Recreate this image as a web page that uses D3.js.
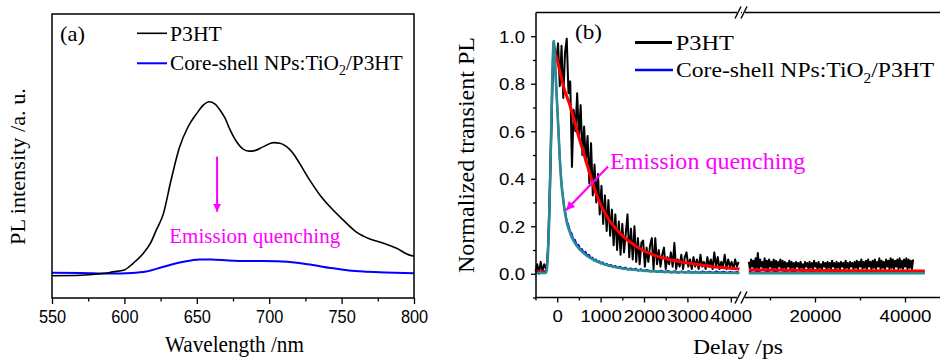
<!DOCTYPE html>
<html>
<head>
<meta charset="utf-8">
<script src="https://cdn.jsdelivr.net/npm/d3@7"></script>
<style>
  body { margin: 0; background: #fff; }
  svg { display: block; }
</style>
</head>
<body>
<svg id="chart" width="940" height="359"></svg>
<script>
// ---------- panel (a): steady-state PL spectra ----------
const wavelengthTicks = [550, 600, 650, 700, 750, 800];
const wavelengthMinor = [575, 625, 675, 725, 775];
// [wavelength nm, intensity a.u.]
const p3htSpectrum = [
  [550, 7.85], [570, 8.0], [585, 8.6], [592, 9.2], [600, 9.9], [606, 12.2], [613, 15.7],
  [618, 19.3], [622, 23.9], [627, 29.8], [632, 41.0], [638, 53.0], [644, 60.3], [650, 65.0],
  [654.5, 67.9], [658.4, 69.1], [662.6, 68.3], [666, 66.2], [669.5, 63.3], [673, 59.2],
  [677.5, 55.0], [682, 52.4], [686, 51.7], [690, 51.9], [696, 53.3], [703, 54.7], [707.5, 54.5],
  [712, 53.3], [716.6, 50.9], [721, 47.4], [728, 41.5], [735, 36.3], [742, 32.1], [751, 27.5],
  [760, 23.3], [770, 20.7], [779, 19.3], [788, 17.5], [797, 15.1], [800, 14.8]
];
const coreShellSpectrum = [
  [550, 8.9], [570, 8.8], [590, 8.6], [605, 8.8], [615, 9.3], [627, 11.0], [640, 12.7],
  [652, 13.6], [660, 13.6], [672, 13.2], [684, 13.0], [695, 13.0], [705, 12.9], [719, 12.4],
  [730, 11.6], [742, 10.6], [755, 9.7], [765, 9.3], [780, 9.0], [800, 8.7]
];

// ---------- panel (b): transient PL ----------
const delayTicksShort = [0, 1000, 2000, 3000, 4000];
const delayMinorShort = [-500, 500, 1500, 2500, 3500];
const delayTicksLong = [20000, 40000];
const delayMinorLong = [10000, 30000];
const plTicks = [0, 0.2, 0.4, 0.6, 0.8, 1.0];
const plMinor = [-0.1, 0.1, 0.3, 0.5, 0.7, 0.9];

// P3HT raw decay, early window: starts at -500 ps, one value every 40 ps
const p3htEarlyStart = -500, p3htEarlyStep = 40;
const p3htEarly = [
  0.01, 0.04, 0.00, 0.05, 0.01, 0.04, 0.02, 0.06, 0.25, 0.55,
  0.85, 0.95, 0.90, 0.97, 0.79, 0.96, 0.74, 0.93, 0.99, 0.76,
  0.81, 0.45, 0.69, 0.60, 0.76, 0.57, 0.71, 0.50, 0.62, 0.47,
  0.58, 0.38, 0.55, 0.33, 0.46, 0.30, 0.42, 0.25, 0.37, 0.21,
  0.33, 0.18, 0.31, 0.16, 0.27, 0.12, 0.25, 0.10, 0.22, 0.08,
  0.21, 0.09, 0.17, 0.25, 0.07, 0.19, 0.06, 0.20, 0.05, 0.15,
  0.04, 0.13, 0.14, 0.03, 0.11, 0.05, 0.12, 0.15, 0.02, 0.15,
  0.04, 0.10, 0.03, 0.08, 0.11, 0.02, 0.07, 0.04, 0.09, 0.03,
  0.13, 0.02, 0.06, 0.03, 0.08, 0.02, 0.07, 0.09, 0.03, 0.06,
  0.02, 0.07, 0.03, 0.06, 0.02, 0.08, 0.03, 0.05, 0.02, 0.07,
  0.03, 0.06, 0.02, 0.09, 0.03, 0.07, 0.02, 0.05, 0.03, 0.08,
  0.02, 0.06, 0.03, 0.05, 0.02, 0.06, 0.03, 0.05
];
// P3HT raw decay, long window: starts at 5300 ps, one value every 250 ps
const p3htLateStart = 5300, p3htLateStep = 250;
const p3htLate = [
  0.05, 0.02, 0.06, 0.03, 0.055, 0.02, 0.065, 0.025, 0.087, 0.02,
  0.06, 0.03, 0.05, 0.02, 0.065, 0.025, 0.055, 0.02, 0.06, 0.03,
  0.05, 0.02, 0.06, 0.025, 0.055, 0.02, 0.05, 0.03, 0.06, 0.02,
  0.055, 0.025, 0.05, 0.02, 0.045, 0.03, 0.055, 0.02, 0.05, 0.025,
  0.045, 0.02, 0.05, 0.03, 0.045, 0.02, 0.05, 0.025, 0.04, 0.02,
  0.05, 0.03, 0.045, 0.02, 0.05, 0.025, 0.045, 0.02, 0.055, 0.03,
  0.045, 0.02, 0.05, 0.025, 0.04, 0.02, 0.05, 0.03, 0.045, 0.02,
  0.05, 0.025, 0.045, 0.02, 0.055, 0.03, 0.045, 0.02, 0.05, 0.025,
  0.045, 0.02, 0.05, 0.03, 0.045, 0.02, 0.055, 0.025, 0.045, 0.02,
  0.05, 0.03, 0.045, 0.02, 0.05, 0.025, 0.055, 0.02, 0.05, 0.03,
  0.06, 0.02, 0.05, 0.025, 0.055, 0.02, 0.06, 0.03, 0.05, 0.02,
  0.055, 0.025, 0.06, 0.02, 0.05, 0.03, 0.065, 0.02, 0.055, 0.025,
  0.05, 0.02, 0.06, 0.03, 0.055, 0.02, 0.065, 0.025, 0.06, 0.02,
  0.055, 0.03, 0.06, 0.02, 0.065, 0.025, 0.055, 0.02, 0.06, 0.03,
  0.065, 0.02, 0.06, 0.025, 0.055, 0.02, 0.06
];
// core-shell raw decay [ps, PL]
const coreShellEarly = [
  [-500, 0.005], [-440, 0.012], [-380, 0.003], [-320, 0.01], [-270, 0.006], [-240, 0.03],
  [-210, 0.12], [-180, 0.3], [-150, 0.52], [-120, 0.76], [-95, 0.93], [-80, 0.98], [-65, 0.95],
  [-45, 0.87], [-20, 0.78], [5, 0.69], [30, 0.6], [55, 0.5], [80, 0.43], [105, 0.37], [130, 0.33],
  [160, 0.28], [190, 0.255], [220, 0.22], [250, 0.21], [290, 0.18], [330, 0.17], [370, 0.145],
  [410, 0.142], [450, 0.12], [490, 0.122], [530, 0.1], [570, 0.104], [610, 0.088], [650, 0.092],
  [690, 0.075], [730, 0.08], [770, 0.066], [810, 0.068], [850, 0.056], [890, 0.06], [930, 0.05],
  [970, 0.053], [1010, 0.043], [1050, 0.048], [1090, 0.038], [1140, 0.042], [1190, 0.033],
  [1240, 0.037], [1290, 0.028], [1340, 0.033], [1390, 0.025], [1450, 0.029], [1510, 0.021],
  [1570, 0.026], [1630, 0.018], [1690, 0.023], [1750, 0.016], [1810, 0.021], [1870, 0.013],
  [1930, 0.019], [1990, 0.011], [2070, 0.016], [2150, 0.009], [2230, 0.014], [2310, 0.007],
  [2390, 0.013], [2470, 0.006], [2550, 0.012], [2630, 0.005], [2710, 0.011], [2790, 0.004],
  [2870, 0.01], [2950, 0.004], [3030, 0.011], [3110, 0.004], [3190, 0.009], [3270, 0.003],
  [3350, 0.01], [3430, 0.004], [3510, 0.009], [3590, 0.003], [3670, 0.01], [3750, 0.004],
  [3830, 0.009], [3910, 0.003], [3990, 0.008], [4070, 0.004], [4180, 0.008]
];
const coreShellLate = [
  [5300, 0.008], [6300, 0.004], [7300, 0.009], [8300, 0.003], [9300, 0.008], [10300, 0.004],
  [11300, 0.009], [12300, 0.003], [13300, 0.008], [14300, 0.004], [15300, 0.009], [16300, 0.003],
  [17300, 0.008], [18300, 0.004], [19300, 0.009], [20300, 0.003], [21300, 0.008], [22300, 0.004],
  [23300, 0.009], [24300, 0.003], [25300, 0.008], [26300, 0.004], [27300, 0.009], [28300, 0.003],
  [29300, 0.008], [30300, 0.004], [31300, 0.009], [32300, 0.003], [33300, 0.008], [34300, 0.004],
  [35300, 0.009], [36300, 0.003], [37300, 0.008], [38300, 0.004], [39300, 0.009], [40300, 0.003],
  [41300, 0.008], [42300, 0.004], [43300, 0.008], [44400, 0.004]
];
// fitted curves [ps, PL]
const p3htFitRise = [
  [-500, 0.012], [-300, 0.012], [-260, 0.02], [-230, 0.06], [-200, 0.2], [-170, 0.42],
  [-140, 0.63], [-110, 0.82], [-85, 0.93], [-78, 0.94]
];
const p3htFitDecay = [
  [-78, 0.94], [-40, 0.926], [50, 0.86], [150, 0.786], [310, 0.70], [460, 0.60], [615, 0.505],
  [770, 0.41], [920, 0.325], [1150, 0.24], [1460, 0.168], [1850, 0.112], [2230, 0.078],
  [2620, 0.058], [3000, 0.045], [3500, 0.032], [4200, 0.02]
];
const p3htFitLate = [[5300, 0.017], [15000, 0.015], [30000, 0.013], [44400, 0.012]];
const coreShellFit = [
  [-500, 0.003], [-280, 0.003], [-250, 0.008], [-220, 0.06], [-190, 0.2], [-160, 0.42],
  [-130, 0.68], [-105, 0.88], [-85, 0.97], [-78, 0.98], [-65, 0.95], [-50, 0.89], [-16, 0.765],
  [23, 0.624], [60, 0.484], [100, 0.372], [140, 0.31], [177, 0.26], [230, 0.21], [292, 0.175],
  [360, 0.145], [446, 0.119], [550, 0.097], [677, 0.077], [850, 0.058], [1062, 0.042],
  [1250, 0.032], [1446, 0.024], [1750, 0.017], [2062, 0.012], [2500, 0.008], [3000, 0.006],
  [3600, 0.004], [4200, 0.003]
];
const coreShellFitLate = [[5300, 0.002], [44400, 0.002]];

const serif = '"Liberation Serif", "Times New Roman", Times, serif';
const sans = '"Liberation Sans", Arial, Helvetica, sans-serif';
const magenta = '#ff00ff';
const teal = '#2a8c8c';

const svg = d3.select('#chart');
svg.append('rect').attr('width', 940).attr('height', 359).attr('fill', '#fff');

// text squeezed/stretched to the width it has in the picture
function fitText(parts, x, y, size, width, opts = {}) {
  const t = svg.append('text')
      .attr('font-family', opts.family || serif)
      .attr('font-size', size)
      .attr('fill', opts.fill || '#000');
  const shift = size * 0.28;
  let lowered = false;
  (Array.isArray(parts) ? parts : [parts]).forEach(p => {
    if (typeof p === 'string') {
      t.append('tspan').attr('dy', lowered ? -shift : null).text(p);
      lowered = false;
    } else {
      t.append('tspan').attr('font-size', size * 0.65).attr('dy', shift).text(p.sub);
      lowered = true;
    }
  });
  const w = t.node().getBBox().width;
  const k = width / w;
  t.attr('transform', opts.rotate
      ? `translate(${x},${y}) rotate(-90) scale(${k},1)`
      : `translate(${x},${y}) scale(${k},1)`);
  return t;
}

function arrowHead(id) {
  svg.append('defs').append('marker')
      .attr('id', id)
      .attr('viewBox', '0 0 10 10')
      .attr('refX', 10).attr('refY', 5)
      .attr('markerWidth', 4).attr('markerHeight', 4)
      .attr('markerUnits', 'strokeWidth')
      .attr('orient', 'auto')
      .append('path')
      .attr('d', 'M0,0L10,5L0,10Z')
      .attr('fill', magenta);
}
arrowHead('headA');

// =============== panel (a) ===============
const xa = d3.scaleLinear().domain([550, 800]).range([52, 414]);
const ya = d3.scaleLinear().domain([0, 100]).range([298, 14]);

const lineA = d3.line()
    .x(d => xa(d[0]))
    .y(d => ya(d[1]))
    .curve(d3.curveMonotoneX);

svg.append('path').datum(coreShellSpectrum)
    .attr('d', lineA).attr('fill', 'none')
    .attr('stroke', '#0000ff').attr('stroke-width', 2);
svg.append('path').datum(p3htSpectrum)
    .attr('d', lineA).attr('fill', 'none')
    .attr('stroke', '#000').attr('stroke-width', 1.6);

svg.append('rect')
    .attr('x', xa(550)).attr('y', ya(100))
    .attr('width', xa(800) - xa(550)).attr('height', ya(0) - ya(100))
    .attr('fill', 'none').attr('stroke', '#000').attr('stroke-width', 1.5);

svg.append('g').attr('transform', `translate(0,${ya(0)})`)
    .call(d3.axisBottom(xa).tickValues(wavelengthMinor).tickSize(3.5).tickFormat(''))
    .call(g => g.select('.domain').remove())
    .call(g => g.selectAll('line').attr('stroke-width', 1.3));

svg.append('g').attr('transform', `translate(0,${ya(0)})`)
    .call(d3.axisBottom(xa).tickValues(wavelengthTicks).tickSize(6).tickFormat(d3.format('d')))
    .call(g => g.select('.domain').remove())
    .call(g => g.selectAll('line').attr('stroke-width', 1.3))
    .call(g => g.selectAll('text')
        .attr('y', null).attr('dy', null)
        .attr('transform', 'translate(0,25.3) scale(0.86,1)')
        .attr('font-family', sans).attr('font-size', 19).attr('fill', '#000'));

// legend (a)
fitText('(a)', 60, 40.5, 21, 25);
svg.append('line').attr('x1', 137).attr('x2', 167).attr('y1', 33.3).attr('y2', 33.3)
    .attr('stroke', '#000').attr('stroke-width', 1.6);
fitText('P3HT', 170, 40.5, 21, 52);
svg.append('line').attr('x1', 137).attr('x2', 167).attr('y1', 63.3).attr('y2', 63.3)
    .attr('stroke', '#0000ff').attr('stroke-width', 2);
fitText(['Core-shell NPs:TiO', {sub: '2'}, '/P3HT'], 170, 69.5, 21, 233);

// quenching arrow (a)
svg.append('line')
    .attr('x1', xa(664)).attr('x2', xa(664))
    .attr('y1', ya(49.8)).attr('y2', ya(30.4))
    .attr('stroke', magenta).attr('stroke-width', 2)
    .attr('marker-end', 'url(#headA)');
fitText('Emission quenching', xa(631), ya(19.3), 22, 171, {fill: magenta});

fitText('Wavelength /nm', 165, 351.7, 23, 139);
fitText('PL intensity /a. u.', 24.5, 245, 22, 157, {rotate: true});

// =============== panel (b) ===============
const xb1 = d3.scaleLinear().domain([-500, 4235]).range([535.5, 741]);
const xb2 = d3.scaleLinear().domain([4700, 48000]).range([746.15, 941]);
const yb = d3.scaleLinear().domain([-0.1, 1.1]).range([297.5, 12.5]);

const lineB = sx => d3.line().x(d => sx(d[0])).y(d => yb(d[1]));
const smoothB = sx => d3.line().x(d => sx(d[0])).y(d => yb(d[1])).curve(d3.curveMonotoneX);

const p3htEarlyPts = p3htEarly.map((v, i) => [p3htEarlyStart + i * p3htEarlyStep, v]);
const p3htLatePts = p3htLate.map((v, i) => [p3htLateStart + i * p3htLateStep, v]);

function drawB(data, gen, color, width) {
  svg.append('path').datum(data)
      .attr('d', gen).attr('fill', 'none')
      .attr('stroke', color).attr('stroke-width', width)
      .attr('stroke-linejoin', 'round');
}

drawB(p3htEarlyPts, lineB(xb1), '#000', 2);
drawB(p3htLatePts, lineB(xb2), '#000', 2);
drawB(coreShellEarly, lineB(xb1), '#0000ff', 2);
drawB(coreShellLate, lineB(xb2), '#0000ff', 2);
drawB(p3htFitRise, smoothB(xb1), '#ff0000', 1.2);
drawB(p3htFitDecay, smoothB(xb1), '#ff0000', 3);
drawB(p3htFitLate, smoothB(xb2), '#ff0000', 3);
drawB(coreShellFit, smoothB(xb1), teal, 2.6);
drawB(coreShellFitLate, smoothB(xb2), teal, 2.6);

// frame and broken axis
function seg(x1, y1, x2, y2, w) {
  svg.append('line').attr('x1', x1).attr('y1', y1).attr('x2', x2).attr('y2', y2)
      .attr('stroke', '#000').attr('stroke-width', w || 1.5);
}
seg(536, yb(1.1), 941, yb(1.1));
seg(536, yb(1.1), 536, yb(-0.1));
seg(535.5, yb(-0.1), 738.5, yb(-0.1));
seg(745, yb(-0.1), 941, yb(-0.1));
[yb(1.1), yb(-0.1)].forEach(y => {
  svg.append('rect').attr('x', 737).attr('y', y - 2).attr('width', 8).attr('height', 4).attr('fill', '#fff');
  seg(735, y + 6, 741, y - 6, 1.4);
  seg(741, y + 6, 747, y - 6, 1.4);
});
seg(741, yb(1.1), 742, yb(1.1));

function styleTicks(g) {
  g.select('.domain').remove();
  g.selectAll('line').attr('stroke-width', 1.3);
}
function bottomTickText(g) {
  g.selectAll('text')
      .attr('y', null).attr('dy', null)
      .attr('transform', 'translate(0,24.8) scale(1.13,1)')
      .attr('font-family', sans).attr('font-size', 16.5).attr('fill', '#000');
}

svg.append('g').attr('transform', `translate(0,${yb(-0.1)})`)
    .call(d3.axisBottom(xb1).tickValues(delayMinorShort).tickSize(3).tickFormat(''))
    .call(styleTicks);
svg.append('g').attr('transform', `translate(0,${yb(-0.1)})`)
    .call(d3.axisBottom(xb1).tickValues(delayTicksShort).tickSize(5).tickFormat(d3.format('d')))
    .call(styleTicks).call(bottomTickText);
svg.append('g').attr('transform', `translate(0,${yb(-0.1)})`)
    .call(d3.axisBottom(xb2).tickValues(delayMinorLong).tickSize(3).tickFormat(''))
    .call(styleTicks);
svg.append('g').attr('transform', `translate(0,${yb(-0.1)})`)
    .call(d3.axisBottom(xb2).tickValues(delayTicksLong).tickSize(5).tickFormat(d3.format('d')))
    .call(styleTicks).call(bottomTickText);

svg.append('g').attr('transform', 'translate(536,0)')
    .call(d3.axisLeft(yb).tickValues(plMinor).tickSize(3).tickFormat(''))
    .call(styleTicks);
svg.append('g').attr('transform', 'translate(536,0)')
    .call(d3.axisLeft(yb).tickValues(plTicks).tickSize(5).tickFormat(d3.format('.1f')))
    .call(styleTicks)
    .call(g => g.selectAll('text')
        .attr('x', null).attr('dy', null)
        .attr('transform', 'translate(-11,5.8) scale(1.13,1)')
        .attr('font-family', sans).attr('font-size', 16.5).attr('fill', '#000'));

// legend (b)
fitText('(b)', 575, 38.5, 22, 27);
svg.append('line').attr('x1', 635).attr('x2', 672).attr('y1', 42.5).attr('y2', 42.5)
    .attr('stroke', '#000').attr('stroke-width', 3);
fitText('P3HT', 675.7, 50, 22, 59);
svg.append('line').attr('x1', 635).attr('x2', 673).attr('y1', 70).attr('y2', 70)
    .attr('stroke', '#0000ff').attr('stroke-width', 2.5);
fitText(['Core-shell NPs:TiO', {sub: '2'}, '/P3HT'], 676, 77, 22, 259);

// quenching arrow (b)
arrowHead('headB');
svg.append('line')
    .attr('x1', xb1(1171)).attr('y1', yb(0.452))
    .attr('x2', xb1(203)).attr('y2', yb(0.267))
    .attr('stroke', magenta).attr('stroke-width', 2.2)
    .attr('marker-end', 'url(#headB)');
fitText('Emission quenching', xb1(1217), yb(0.443), 23, 196, {fill: magenta});

fitText('Delay /ps', 693, 354, 22, 90);
fitText('Normalized transient PL', 474, 273, 23, 236, {rotate: true});
</script>
</body>
</html>
